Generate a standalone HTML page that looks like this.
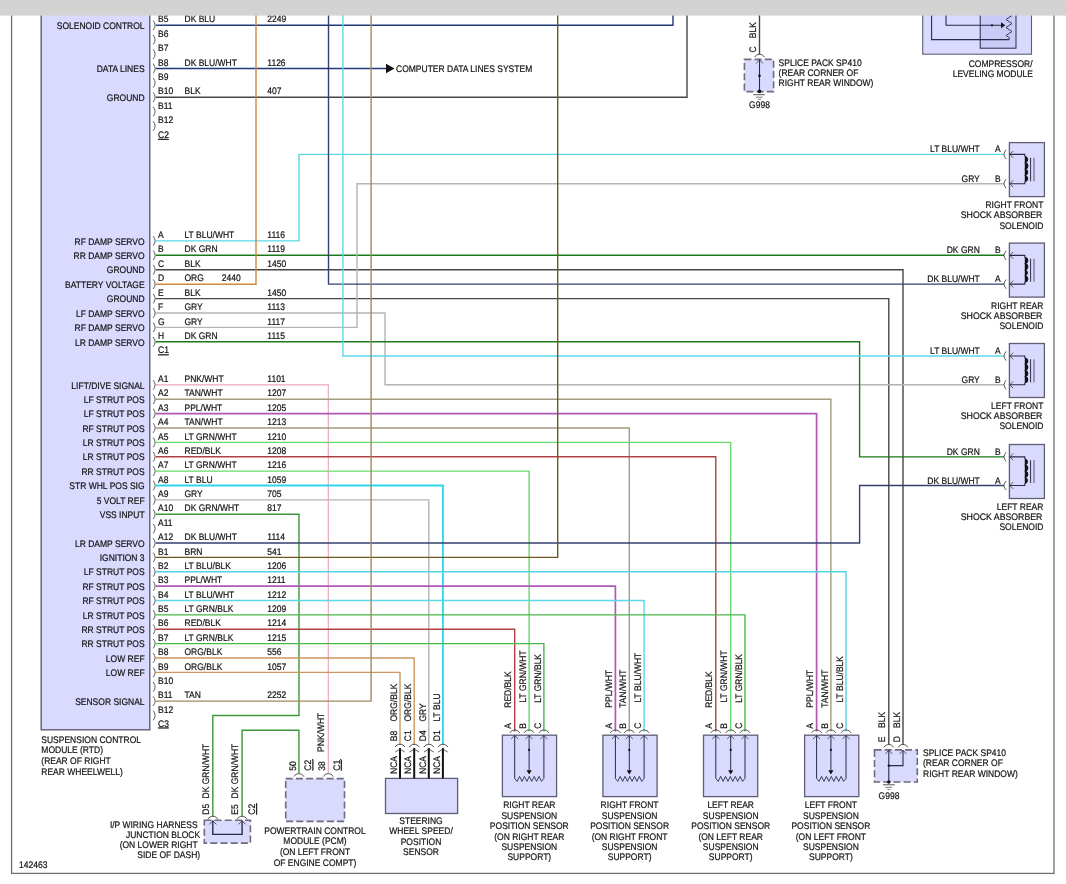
<!DOCTYPE html><html><head><meta charset="utf-8"><style>html,body{margin:0;padding:0;background:#fff;}svg{display:block;font-family:"Liberation Sans",sans-serif;text-rendering:geometricPrecision;will-change:transform;}</style></head><body>
<svg width="1066" height="884" viewBox="0 0 1066 884">
<rect x="0" y="0" width="1066" height="884" fill="#ffffff"/>
<rect x="11.6" y="0" width="1042.4" height="873.4" fill="none" stroke="#707070" stroke-width="1.3"/>
<rect x="41.2" y="0" width="108.6" height="729.8" fill="#dadaff" stroke="#5e5e76" stroke-width="1.4"/>
<polyline points="155.8,25.3 673.0,25.3 673.0,0.0" fill="none" stroke="#1f3a7c" stroke-width="1.4" stroke-linejoin="miter" stroke-linecap="butt"/>
<polyline points="155.8,68.5 387.0,68.5" fill="none" stroke="#1f3a7c" stroke-width="1.4" stroke-linejoin="miter" stroke-linecap="butt"/>
<polyline points="155.8,97.2 687.0,97.2 687.0,0.0" fill="none" stroke="#464646" stroke-width="1.4" stroke-linejoin="miter" stroke-linecap="butt"/>
<polyline points="155.8,240.9 299.0,240.9 299.0,154.4 1004.0,154.4" fill="none" stroke="#5ad8e6" stroke-width="1.4" stroke-linejoin="miter" stroke-linecap="butt"/>
<polyline points="155.8,255.3 1004.0,255.3" fill="none" stroke="#1b7a1b" stroke-width="1.4" stroke-linejoin="miter" stroke-linecap="butt"/>
<polyline points="155.8,269.7 903.0,269.7 903.0,744.5" fill="none" stroke="#464646" stroke-width="1.4" stroke-linejoin="miter" stroke-linecap="butt"/>
<polyline points="155.8,284.2 256.0,284.2 256.0,0.0" fill="none" stroke="#cc8a3c" stroke-width="1.4" stroke-linejoin="miter" stroke-linecap="butt"/>
<polyline points="155.8,298.6 888.8,298.6 888.8,744.5" fill="none" stroke="#464646" stroke-width="1.4" stroke-linejoin="miter" stroke-linecap="butt"/>
<polyline points="155.8,313.0 385.0,313.0 385.0,384.8 1004.0,384.8" fill="none" stroke="#b4b4b4" stroke-width="1.4" stroke-linejoin="miter" stroke-linecap="butt"/>
<polyline points="155.8,327.4 357.0,327.4 357.0,183.7 1004.0,183.7" fill="none" stroke="#b4b4b4" stroke-width="1.4" stroke-linejoin="miter" stroke-linecap="butt"/>
<polyline points="155.8,341.8 859.6,341.8 859.6,456.9 1004.0,456.9" fill="none" stroke="#1b7a1b" stroke-width="1.4" stroke-linejoin="miter" stroke-linecap="butt"/>
<polyline points="328.5,0.0 328.5,284.1 1004.0,284.1" fill="none" stroke="#34406e" stroke-width="1.4" stroke-linejoin="miter" stroke-linecap="butt"/>
<polyline points="342.9,0.0 342.9,356.0 1004.0,356.0" fill="none" stroke="#5ad8e6" stroke-width="1.4" stroke-linejoin="miter" stroke-linecap="butt"/>
<polyline points="155.8,384.9 328.3,384.9 328.3,773.0" fill="none" stroke="#eca8bc" stroke-width="1.2" stroke-linejoin="miter" stroke-linecap="butt"/>
<polyline points="155.8,399.3 830.9,399.3 830.9,731.5" fill="none" stroke="#a49c80" stroke-width="1.4" stroke-linejoin="miter" stroke-linecap="butt"/>
<polyline points="155.8,413.6 816.6,413.6 816.6,731.5" fill="none" stroke="#b058b8" stroke-width="1.7" stroke-linejoin="miter" stroke-linecap="butt"/>
<polyline points="155.8,428.0 629.3,428.0 629.3,731.5" fill="none" stroke="#a49c80" stroke-width="1.4" stroke-linejoin="miter" stroke-linecap="butt"/>
<polyline points="155.8,442.4 730.7,442.4 730.7,731.5" fill="none" stroke="#6cd86c" stroke-width="1.4" stroke-linejoin="miter" stroke-linecap="butt"/>
<polyline points="155.8,456.8 715.8,456.8 715.8,731.5" fill="none" stroke="#b04040" stroke-width="1.4" stroke-linejoin="miter" stroke-linecap="butt"/>
<polyline points="155.8,471.1 529.1,471.1 529.1,731.5" fill="none" stroke="#6cd86c" stroke-width="1.4" stroke-linejoin="miter" stroke-linecap="butt"/>
<polyline points="155.8,485.5 442.9,485.5 442.9,745.0" fill="none" stroke="#2ed6ea" stroke-width="1.8" stroke-linejoin="miter" stroke-linecap="butt"/>
<polyline points="155.8,499.9 428.8,499.9 428.8,745.0" fill="none" stroke="#b4b4b4" stroke-width="1.4" stroke-linejoin="miter" stroke-linecap="butt"/>
<polyline points="155.8,514.3 299.0,514.3 299.0,715.5 212.8,715.5 212.8,816.5" fill="none" stroke="#3c963c" stroke-width="1.4" stroke-linejoin="miter" stroke-linecap="butt"/>
<polyline points="155.8,543.0 859.6,543.0 859.6,485.5 1004.0,485.5" fill="none" stroke="#34406e" stroke-width="1.4" stroke-linejoin="miter" stroke-linecap="butt"/>
<polyline points="155.8,557.4 557.7,557.4 557.7,0.0" fill="none" stroke="#6a5a22" stroke-width="1.4" stroke-linejoin="miter" stroke-linecap="butt"/>
<polyline points="155.8,571.8 846.0,571.8 846.0,731.5" fill="none" stroke="#4fd4e2" stroke-width="1.4" stroke-linejoin="miter" stroke-linecap="butt"/>
<polyline points="155.8,586.1 615.4,586.1 615.4,731.5" fill="none" stroke="#b058b8" stroke-width="1.7" stroke-linejoin="miter" stroke-linecap="butt"/>
<polyline points="155.8,600.5 644.1,600.5 644.1,731.5" fill="none" stroke="#5ad8e6" stroke-width="1.4" stroke-linejoin="miter" stroke-linecap="butt"/>
<polyline points="155.8,614.9 745.0,614.9 745.0,731.5" fill="none" stroke="#4ab84a" stroke-width="1.4" stroke-linejoin="miter" stroke-linecap="butt"/>
<polyline points="155.8,629.3 514.7,629.3 514.7,731.5" fill="none" stroke="#b04040" stroke-width="1.4" stroke-linejoin="miter" stroke-linecap="butt"/>
<polyline points="155.8,643.6 543.9,643.6 543.9,731.5" fill="none" stroke="#4ab84a" stroke-width="1.4" stroke-linejoin="miter" stroke-linecap="butt"/>
<polyline points="155.8,658.0 414.2,658.0 414.2,745.0" fill="none" stroke="#cc9660" stroke-width="1.4" stroke-linejoin="miter" stroke-linecap="butt"/>
<polyline points="155.8,672.4 400.0,672.4 400.0,745.0" fill="none" stroke="#cc9660" stroke-width="1.4" stroke-linejoin="miter" stroke-linecap="butt"/>
<polyline points="155.8,701.1 371.1,701.1 371.1,0.0" fill="none" stroke="#a08c5c" stroke-width="1.4" stroke-linejoin="miter" stroke-linecap="butt"/>
<polyline points="298.9,773.0 298.9,730.2 242.1,730.2 242.1,816.5" fill="none" stroke="#3c963c" stroke-width="1.4" stroke-linejoin="miter" stroke-linecap="butt"/>
<polyline points="759.5,0.0 759.5,54.5" fill="none" stroke="#464646" stroke-width="1.4" stroke-linejoin="miter" stroke-linecap="butt"/>
<path d="M386,63.8 L394.5,68.5 L386,73.2 Z" fill="#111"/>
<text transform="translate(396.00,71.80) scale(0.895,1)" font-size="9.5" text-anchor="start" fill="#111111" stroke="#111111" stroke-width="0.2">COMPUTER DATA LINES SYSTEM</text>
<path d="M153.2,20.5 Q157.0,25.3 153.2,30.1" fill="none" stroke="#333" stroke-width="0.8"/>
<text transform="translate(158.00,22.40) scale(0.895,1)" font-size="9.5" text-anchor="start" fill="#111111" stroke="#111111" stroke-width="0.2">B5</text>
<text transform="translate(144.60,29.00) scale(0.895,1)" font-size="9.5" text-anchor="end" fill="#111111" stroke="#111111" stroke-width="0.2">SOLENOID CONTROL</text>
<text transform="translate(184.50,22.40) scale(0.895,1)" font-size="9.5" text-anchor="start" fill="#111111" stroke="#111111" stroke-width="0.2">DK BLU</text>
<text transform="translate(267.30,22.40) scale(0.895,1)" font-size="9.5" text-anchor="start" fill="#111111" stroke="#111111" stroke-width="0.2">2249</text>
<path d="M153.2,34.9 Q157.0,39.7 153.2,44.5" fill="none" stroke="#333" stroke-width="0.8"/>
<text transform="translate(158.00,36.79) scale(0.895,1)" font-size="9.5" text-anchor="start" fill="#111111" stroke="#111111" stroke-width="0.2">B6</text>
<path d="M153.2,49.3 Q157.0,54.1 153.2,58.9" fill="none" stroke="#333" stroke-width="0.8"/>
<text transform="translate(158.00,51.17) scale(0.895,1)" font-size="9.5" text-anchor="start" fill="#111111" stroke="#111111" stroke-width="0.2">B7</text>
<path d="M153.2,63.7 Q157.0,68.5 153.2,73.3" fill="none" stroke="#333" stroke-width="0.8"/>
<text transform="translate(158.00,65.55) scale(0.895,1)" font-size="9.5" text-anchor="start" fill="#111111" stroke="#111111" stroke-width="0.2">B8</text>
<text transform="translate(144.60,72.16) scale(0.895,1)" font-size="9.5" text-anchor="end" fill="#111111" stroke="#111111" stroke-width="0.2">DATA LINES</text>
<text transform="translate(184.50,65.55) scale(0.895,1)" font-size="9.5" text-anchor="start" fill="#111111" stroke="#111111" stroke-width="0.2">DK BLU/WHT</text>
<text transform="translate(267.30,65.55) scale(0.895,1)" font-size="9.5" text-anchor="start" fill="#111111" stroke="#111111" stroke-width="0.2">1126</text>
<path d="M153.2,78.0 Q157.0,82.8 153.2,87.6" fill="none" stroke="#333" stroke-width="0.8"/>
<text transform="translate(158.00,79.94) scale(0.895,1)" font-size="9.5" text-anchor="start" fill="#111111" stroke="#111111" stroke-width="0.2">B9</text>
<path d="M153.2,92.4 Q157.0,97.2 153.2,102.0" fill="none" stroke="#333" stroke-width="0.8"/>
<text transform="translate(158.00,94.32) scale(0.895,1)" font-size="9.5" text-anchor="start" fill="#111111" stroke="#111111" stroke-width="0.2">B10</text>
<text transform="translate(144.60,100.92) scale(0.895,1)" font-size="9.5" text-anchor="end" fill="#111111" stroke="#111111" stroke-width="0.2">GROUND</text>
<text transform="translate(184.50,94.32) scale(0.895,1)" font-size="9.5" text-anchor="start" fill="#111111" stroke="#111111" stroke-width="0.2">BLK</text>
<text transform="translate(267.30,94.32) scale(0.895,1)" font-size="9.5" text-anchor="start" fill="#111111" stroke="#111111" stroke-width="0.2">407</text>
<path d="M153.2,106.8 Q157.0,111.6 153.2,116.4" fill="none" stroke="#333" stroke-width="0.8"/>
<text transform="translate(158.00,108.71) scale(0.895,1)" font-size="9.5" text-anchor="start" fill="#111111" stroke="#111111" stroke-width="0.2">B11</text>
<path d="M153.2,121.2 Q157.0,126.0 153.2,130.8" fill="none" stroke="#333" stroke-width="0.8"/>
<text transform="translate(158.00,123.09) scale(0.895,1)" font-size="9.5" text-anchor="start" fill="#111111" stroke="#111111" stroke-width="0.2">B12</text>
<text transform="translate(158.00,137.90) scale(0.895,1)" font-size="9.5" text-anchor="start" fill="#111111" stroke="#111111" stroke-width="0.2" text-decoration="underline">C2</text>
<path d="M153.2,236.1 Q157.0,240.9 153.2,245.7" fill="none" stroke="#333" stroke-width="0.8"/>
<text transform="translate(158.00,238.00) scale(0.895,1)" font-size="9.5" text-anchor="start" fill="#111111" stroke="#111111" stroke-width="0.2">A</text>
<text transform="translate(144.60,244.60) scale(0.895,1)" font-size="9.5" text-anchor="end" fill="#111111" stroke="#111111" stroke-width="0.2">RF DAMP SERVO</text>
<text transform="translate(184.50,238.00) scale(0.895,1)" font-size="9.5" text-anchor="start" fill="#111111" stroke="#111111" stroke-width="0.2">LT BLU/WHT</text>
<text transform="translate(267.30,238.00) scale(0.895,1)" font-size="9.5" text-anchor="start" fill="#111111" stroke="#111111" stroke-width="0.2">1116</text>
<path d="M153.2,250.5 Q157.0,255.3 153.2,260.1" fill="none" stroke="#333" stroke-width="0.8"/>
<text transform="translate(158.00,252.42) scale(0.895,1)" font-size="9.5" text-anchor="start" fill="#111111" stroke="#111111" stroke-width="0.2">B</text>
<text transform="translate(144.60,259.02) scale(0.895,1)" font-size="9.5" text-anchor="end" fill="#111111" stroke="#111111" stroke-width="0.2">RR DAMP SERVO</text>
<text transform="translate(184.50,252.42) scale(0.895,1)" font-size="9.5" text-anchor="start" fill="#111111" stroke="#111111" stroke-width="0.2">DK GRN</text>
<text transform="translate(267.30,252.42) scale(0.895,1)" font-size="9.5" text-anchor="start" fill="#111111" stroke="#111111" stroke-width="0.2">1119</text>
<path d="M153.2,264.9 Q157.0,269.7 153.2,274.5" fill="none" stroke="#333" stroke-width="0.8"/>
<text transform="translate(158.00,266.84) scale(0.895,1)" font-size="9.5" text-anchor="start" fill="#111111" stroke="#111111" stroke-width="0.2">C</text>
<text transform="translate(144.60,273.44) scale(0.895,1)" font-size="9.5" text-anchor="end" fill="#111111" stroke="#111111" stroke-width="0.2">GROUND</text>
<text transform="translate(184.50,266.84) scale(0.895,1)" font-size="9.5" text-anchor="start" fill="#111111" stroke="#111111" stroke-width="0.2">BLK</text>
<text transform="translate(267.30,266.84) scale(0.895,1)" font-size="9.5" text-anchor="start" fill="#111111" stroke="#111111" stroke-width="0.2">1450</text>
<path d="M153.2,279.4 Q157.0,284.2 153.2,289.0" fill="none" stroke="#333" stroke-width="0.8"/>
<text transform="translate(158.00,281.26) scale(0.895,1)" font-size="9.5" text-anchor="start" fill="#111111" stroke="#111111" stroke-width="0.2">D</text>
<text transform="translate(144.60,287.86) scale(0.895,1)" font-size="9.5" text-anchor="end" fill="#111111" stroke="#111111" stroke-width="0.2">BATTERY VOLTAGE</text>
<text transform="translate(184.50,281.26) scale(0.895,1)" font-size="9.5" text-anchor="start" fill="#111111" stroke="#111111" stroke-width="0.2">ORG</text>
<path d="M153.2,293.8 Q157.0,298.6 153.2,303.4" fill="none" stroke="#333" stroke-width="0.8"/>
<text transform="translate(158.00,295.68) scale(0.895,1)" font-size="9.5" text-anchor="start" fill="#111111" stroke="#111111" stroke-width="0.2">E</text>
<text transform="translate(144.60,302.28) scale(0.895,1)" font-size="9.5" text-anchor="end" fill="#111111" stroke="#111111" stroke-width="0.2">GROUND</text>
<text transform="translate(184.50,295.68) scale(0.895,1)" font-size="9.5" text-anchor="start" fill="#111111" stroke="#111111" stroke-width="0.2">BLK</text>
<text transform="translate(267.30,295.68) scale(0.895,1)" font-size="9.5" text-anchor="start" fill="#111111" stroke="#111111" stroke-width="0.2">1450</text>
<path d="M153.2,308.2 Q157.0,313.0 153.2,317.8" fill="none" stroke="#333" stroke-width="0.8"/>
<text transform="translate(158.00,310.10) scale(0.895,1)" font-size="9.5" text-anchor="start" fill="#111111" stroke="#111111" stroke-width="0.2">F</text>
<text transform="translate(144.60,316.70) scale(0.895,1)" font-size="9.5" text-anchor="end" fill="#111111" stroke="#111111" stroke-width="0.2">LF DAMP SERVO</text>
<text transform="translate(184.50,310.10) scale(0.895,1)" font-size="9.5" text-anchor="start" fill="#111111" stroke="#111111" stroke-width="0.2">GRY</text>
<text transform="translate(267.30,310.10) scale(0.895,1)" font-size="9.5" text-anchor="start" fill="#111111" stroke="#111111" stroke-width="0.2">1113</text>
<path d="M153.2,322.6 Q157.0,327.4 153.2,332.2" fill="none" stroke="#333" stroke-width="0.8"/>
<text transform="translate(158.00,324.52) scale(0.895,1)" font-size="9.5" text-anchor="start" fill="#111111" stroke="#111111" stroke-width="0.2">G</text>
<text transform="translate(144.60,331.12) scale(0.895,1)" font-size="9.5" text-anchor="end" fill="#111111" stroke="#111111" stroke-width="0.2">RF DAMP SERVO</text>
<text transform="translate(184.50,324.52) scale(0.895,1)" font-size="9.5" text-anchor="start" fill="#111111" stroke="#111111" stroke-width="0.2">GRY</text>
<text transform="translate(267.30,324.52) scale(0.895,1)" font-size="9.5" text-anchor="start" fill="#111111" stroke="#111111" stroke-width="0.2">1117</text>
<path d="M153.2,337.0 Q157.0,341.8 153.2,346.6" fill="none" stroke="#333" stroke-width="0.8"/>
<text transform="translate(158.00,338.94) scale(0.895,1)" font-size="9.5" text-anchor="start" fill="#111111" stroke="#111111" stroke-width="0.2">H</text>
<text transform="translate(144.60,345.54) scale(0.895,1)" font-size="9.5" text-anchor="end" fill="#111111" stroke="#111111" stroke-width="0.2">LR DAMP SERVO</text>
<text transform="translate(184.50,338.94) scale(0.895,1)" font-size="9.5" text-anchor="start" fill="#111111" stroke="#111111" stroke-width="0.2">DK GRN</text>
<text transform="translate(267.30,338.94) scale(0.895,1)" font-size="9.5" text-anchor="start" fill="#111111" stroke="#111111" stroke-width="0.2">1115</text>
<text transform="translate(158.00,353.30) scale(0.895,1)" font-size="9.5" text-anchor="start" fill="#111111" stroke="#111111" stroke-width="0.2" text-decoration="underline">C1</text>
<text transform="translate(221.80,281.26) scale(0.895,1)" font-size="9.5" text-anchor="start" fill="#111111" stroke="#111111" stroke-width="0.2">2440</text>
<path d="M153.2,380.1 Q157.0,384.9 153.2,389.7" fill="none" stroke="#333" stroke-width="0.8"/>
<text transform="translate(158.00,382.00) scale(0.895,1)" font-size="9.5" text-anchor="start" fill="#111111" stroke="#111111" stroke-width="0.2">A1</text>
<text transform="translate(144.60,388.60) scale(0.895,1)" font-size="9.5" text-anchor="end" fill="#111111" stroke="#111111" stroke-width="0.2">LIFT/DIVE SIGNAL</text>
<text transform="translate(184.50,382.00) scale(0.895,1)" font-size="9.5" text-anchor="start" fill="#111111" stroke="#111111" stroke-width="0.2">PNK/WHT</text>
<text transform="translate(267.30,382.00) scale(0.895,1)" font-size="9.5" text-anchor="start" fill="#111111" stroke="#111111" stroke-width="0.2">1101</text>
<path d="M153.2,394.5 Q157.0,399.3 153.2,404.1" fill="none" stroke="#333" stroke-width="0.8"/>
<text transform="translate(158.00,396.38) scale(0.895,1)" font-size="9.5" text-anchor="start" fill="#111111" stroke="#111111" stroke-width="0.2">A2</text>
<text transform="translate(144.60,402.97) scale(0.895,1)" font-size="9.5" text-anchor="end" fill="#111111" stroke="#111111" stroke-width="0.2">LF STRUT POS</text>
<text transform="translate(184.50,396.38) scale(0.895,1)" font-size="9.5" text-anchor="start" fill="#111111" stroke="#111111" stroke-width="0.2">TAN/WHT</text>
<text transform="translate(267.30,396.38) scale(0.895,1)" font-size="9.5" text-anchor="start" fill="#111111" stroke="#111111" stroke-width="0.2">1207</text>
<path d="M153.2,408.8 Q157.0,413.6 153.2,418.4" fill="none" stroke="#333" stroke-width="0.8"/>
<text transform="translate(158.00,410.75) scale(0.895,1)" font-size="9.5" text-anchor="start" fill="#111111" stroke="#111111" stroke-width="0.2">A3</text>
<text transform="translate(144.60,417.35) scale(0.895,1)" font-size="9.5" text-anchor="end" fill="#111111" stroke="#111111" stroke-width="0.2">LF STRUT POS</text>
<text transform="translate(184.50,410.75) scale(0.895,1)" font-size="9.5" text-anchor="start" fill="#111111" stroke="#111111" stroke-width="0.2">PPL/WHT</text>
<text transform="translate(267.30,410.75) scale(0.895,1)" font-size="9.5" text-anchor="start" fill="#111111" stroke="#111111" stroke-width="0.2">1205</text>
<path d="M153.2,423.2 Q157.0,428.0 153.2,432.8" fill="none" stroke="#333" stroke-width="0.8"/>
<text transform="translate(158.00,425.12) scale(0.895,1)" font-size="9.5" text-anchor="start" fill="#111111" stroke="#111111" stroke-width="0.2">A4</text>
<text transform="translate(144.60,431.72) scale(0.895,1)" font-size="9.5" text-anchor="end" fill="#111111" stroke="#111111" stroke-width="0.2">RF STRUT POS</text>
<text transform="translate(184.50,425.12) scale(0.895,1)" font-size="9.5" text-anchor="start" fill="#111111" stroke="#111111" stroke-width="0.2">TAN/WHT</text>
<text transform="translate(267.30,425.12) scale(0.895,1)" font-size="9.5" text-anchor="start" fill="#111111" stroke="#111111" stroke-width="0.2">1213</text>
<path d="M153.2,437.6 Q157.0,442.4 153.2,447.2" fill="none" stroke="#333" stroke-width="0.8"/>
<text transform="translate(158.00,439.50) scale(0.895,1)" font-size="9.5" text-anchor="start" fill="#111111" stroke="#111111" stroke-width="0.2">A5</text>
<text transform="translate(144.60,446.10) scale(0.895,1)" font-size="9.5" text-anchor="end" fill="#111111" stroke="#111111" stroke-width="0.2">LR STRUT POS</text>
<text transform="translate(184.50,439.50) scale(0.895,1)" font-size="9.5" text-anchor="start" fill="#111111" stroke="#111111" stroke-width="0.2">LT GRN/WHT</text>
<text transform="translate(267.30,439.50) scale(0.895,1)" font-size="9.5" text-anchor="start" fill="#111111" stroke="#111111" stroke-width="0.2">1210</text>
<path d="M153.2,452.0 Q157.0,456.8 153.2,461.6" fill="none" stroke="#333" stroke-width="0.8"/>
<text transform="translate(158.00,453.88) scale(0.895,1)" font-size="9.5" text-anchor="start" fill="#111111" stroke="#111111" stroke-width="0.2">A6</text>
<text transform="translate(144.60,460.47) scale(0.895,1)" font-size="9.5" text-anchor="end" fill="#111111" stroke="#111111" stroke-width="0.2">LR STRUT POS</text>
<text transform="translate(184.50,453.88) scale(0.895,1)" font-size="9.5" text-anchor="start" fill="#111111" stroke="#111111" stroke-width="0.2">RED/BLK</text>
<text transform="translate(267.30,453.88) scale(0.895,1)" font-size="9.5" text-anchor="start" fill="#111111" stroke="#111111" stroke-width="0.2">1208</text>
<path d="M153.2,466.3 Q157.0,471.1 153.2,475.9" fill="none" stroke="#333" stroke-width="0.8"/>
<text transform="translate(158.00,468.25) scale(0.895,1)" font-size="9.5" text-anchor="start" fill="#111111" stroke="#111111" stroke-width="0.2">A7</text>
<text transform="translate(144.60,474.85) scale(0.895,1)" font-size="9.5" text-anchor="end" fill="#111111" stroke="#111111" stroke-width="0.2">RR STRUT POS</text>
<text transform="translate(184.50,468.25) scale(0.895,1)" font-size="9.5" text-anchor="start" fill="#111111" stroke="#111111" stroke-width="0.2">LT GRN/WHT</text>
<text transform="translate(267.30,468.25) scale(0.895,1)" font-size="9.5" text-anchor="start" fill="#111111" stroke="#111111" stroke-width="0.2">1216</text>
<path d="M153.2,480.7 Q157.0,485.5 153.2,490.3" fill="none" stroke="#333" stroke-width="0.8"/>
<text transform="translate(158.00,482.62) scale(0.895,1)" font-size="9.5" text-anchor="start" fill="#111111" stroke="#111111" stroke-width="0.2">A8</text>
<text transform="translate(144.60,489.22) scale(0.895,1)" font-size="9.5" text-anchor="end" fill="#111111" stroke="#111111" stroke-width="0.2">STR WHL POS SIG</text>
<text transform="translate(184.50,482.62) scale(0.895,1)" font-size="9.5" text-anchor="start" fill="#111111" stroke="#111111" stroke-width="0.2">LT BLU</text>
<text transform="translate(267.30,482.62) scale(0.895,1)" font-size="9.5" text-anchor="start" fill="#111111" stroke="#111111" stroke-width="0.2">1059</text>
<path d="M153.2,495.1 Q157.0,499.9 153.2,504.7" fill="none" stroke="#333" stroke-width="0.8"/>
<text transform="translate(158.00,497.00) scale(0.895,1)" font-size="9.5" text-anchor="start" fill="#111111" stroke="#111111" stroke-width="0.2">A9</text>
<text transform="translate(144.60,503.60) scale(0.895,1)" font-size="9.5" text-anchor="end" fill="#111111" stroke="#111111" stroke-width="0.2">5 VOLT REF</text>
<text transform="translate(184.50,497.00) scale(0.895,1)" font-size="9.5" text-anchor="start" fill="#111111" stroke="#111111" stroke-width="0.2">GRY</text>
<text transform="translate(267.30,497.00) scale(0.895,1)" font-size="9.5" text-anchor="start" fill="#111111" stroke="#111111" stroke-width="0.2">705</text>
<path d="M153.2,509.5 Q157.0,514.3 153.2,519.1" fill="none" stroke="#333" stroke-width="0.8"/>
<text transform="translate(158.00,511.38) scale(0.895,1)" font-size="9.5" text-anchor="start" fill="#111111" stroke="#111111" stroke-width="0.2">A10</text>
<text transform="translate(144.60,517.98) scale(0.895,1)" font-size="9.5" text-anchor="end" fill="#111111" stroke="#111111" stroke-width="0.2">VSS INPUT</text>
<text transform="translate(184.50,511.38) scale(0.895,1)" font-size="9.5" text-anchor="start" fill="#111111" stroke="#111111" stroke-width="0.2">DK GRN/WHT</text>
<text transform="translate(267.30,511.38) scale(0.895,1)" font-size="9.5" text-anchor="start" fill="#111111" stroke="#111111" stroke-width="0.2">817</text>
<path d="M153.2,523.9 Q157.0,528.6 153.2,533.4" fill="none" stroke="#333" stroke-width="0.8"/>
<text transform="translate(158.00,525.75) scale(0.895,1)" font-size="9.5" text-anchor="start" fill="#111111" stroke="#111111" stroke-width="0.2">A11</text>
<path d="M153.2,538.2 Q157.0,543.0 153.2,547.8" fill="none" stroke="#333" stroke-width="0.8"/>
<text transform="translate(158.00,540.12) scale(0.895,1)" font-size="9.5" text-anchor="start" fill="#111111" stroke="#111111" stroke-width="0.2">A12</text>
<text transform="translate(144.60,546.73) scale(0.895,1)" font-size="9.5" text-anchor="end" fill="#111111" stroke="#111111" stroke-width="0.2">LR DAMP SERVO</text>
<text transform="translate(184.50,540.12) scale(0.895,1)" font-size="9.5" text-anchor="start" fill="#111111" stroke="#111111" stroke-width="0.2">DK BLU/WHT</text>
<text transform="translate(267.30,540.12) scale(0.895,1)" font-size="9.5" text-anchor="start" fill="#111111" stroke="#111111" stroke-width="0.2">1114</text>
<path d="M153.2,552.6 Q157.0,557.4 153.2,562.2" fill="none" stroke="#333" stroke-width="0.8"/>
<text transform="translate(158.00,554.50) scale(0.895,1)" font-size="9.5" text-anchor="start" fill="#111111" stroke="#111111" stroke-width="0.2">B1</text>
<text transform="translate(144.60,561.10) scale(0.895,1)" font-size="9.5" text-anchor="end" fill="#111111" stroke="#111111" stroke-width="0.2">IGNITION 3</text>
<text transform="translate(184.50,554.50) scale(0.895,1)" font-size="9.5" text-anchor="start" fill="#111111" stroke="#111111" stroke-width="0.2">BRN</text>
<text transform="translate(267.30,554.50) scale(0.895,1)" font-size="9.5" text-anchor="start" fill="#111111" stroke="#111111" stroke-width="0.2">541</text>
<path d="M153.2,567.0 Q157.0,571.8 153.2,576.6" fill="none" stroke="#333" stroke-width="0.8"/>
<text transform="translate(158.00,568.88) scale(0.895,1)" font-size="9.5" text-anchor="start" fill="#111111" stroke="#111111" stroke-width="0.2">B2</text>
<text transform="translate(144.60,575.48) scale(0.895,1)" font-size="9.5" text-anchor="end" fill="#111111" stroke="#111111" stroke-width="0.2">LF STRUT POS</text>
<text transform="translate(184.50,568.88) scale(0.895,1)" font-size="9.5" text-anchor="start" fill="#111111" stroke="#111111" stroke-width="0.2">LT BLU/BLK</text>
<text transform="translate(267.30,568.88) scale(0.895,1)" font-size="9.5" text-anchor="start" fill="#111111" stroke="#111111" stroke-width="0.2">1206</text>
<path d="M153.2,581.4 Q157.0,586.1 153.2,590.9" fill="none" stroke="#333" stroke-width="0.8"/>
<text transform="translate(158.00,583.25) scale(0.895,1)" font-size="9.5" text-anchor="start" fill="#111111" stroke="#111111" stroke-width="0.2">B3</text>
<text transform="translate(144.60,589.85) scale(0.895,1)" font-size="9.5" text-anchor="end" fill="#111111" stroke="#111111" stroke-width="0.2">RF STRUT POS</text>
<text transform="translate(184.50,583.25) scale(0.895,1)" font-size="9.5" text-anchor="start" fill="#111111" stroke="#111111" stroke-width="0.2">PPL/WHT</text>
<text transform="translate(267.30,583.25) scale(0.895,1)" font-size="9.5" text-anchor="start" fill="#111111" stroke="#111111" stroke-width="0.2">1211</text>
<path d="M153.2,595.7 Q157.0,600.5 153.2,605.3" fill="none" stroke="#333" stroke-width="0.8"/>
<text transform="translate(158.00,597.62) scale(0.895,1)" font-size="9.5" text-anchor="start" fill="#111111" stroke="#111111" stroke-width="0.2">B4</text>
<text transform="translate(144.60,604.23) scale(0.895,1)" font-size="9.5" text-anchor="end" fill="#111111" stroke="#111111" stroke-width="0.2">RF STRUT POS</text>
<text transform="translate(184.50,597.62) scale(0.895,1)" font-size="9.5" text-anchor="start" fill="#111111" stroke="#111111" stroke-width="0.2">LT BLU/WHT</text>
<text transform="translate(267.30,597.62) scale(0.895,1)" font-size="9.5" text-anchor="start" fill="#111111" stroke="#111111" stroke-width="0.2">1212</text>
<path d="M153.2,610.1 Q157.0,614.9 153.2,619.7" fill="none" stroke="#333" stroke-width="0.8"/>
<text transform="translate(158.00,612.00) scale(0.895,1)" font-size="9.5" text-anchor="start" fill="#111111" stroke="#111111" stroke-width="0.2">B5</text>
<text transform="translate(144.60,618.60) scale(0.895,1)" font-size="9.5" text-anchor="end" fill="#111111" stroke="#111111" stroke-width="0.2">LR STRUT POS</text>
<text transform="translate(184.50,612.00) scale(0.895,1)" font-size="9.5" text-anchor="start" fill="#111111" stroke="#111111" stroke-width="0.2">LT GRN/BLK</text>
<text transform="translate(267.30,612.00) scale(0.895,1)" font-size="9.5" text-anchor="start" fill="#111111" stroke="#111111" stroke-width="0.2">1209</text>
<path d="M153.2,624.5 Q157.0,629.3 153.2,634.1" fill="none" stroke="#333" stroke-width="0.8"/>
<text transform="translate(158.00,626.38) scale(0.895,1)" font-size="9.5" text-anchor="start" fill="#111111" stroke="#111111" stroke-width="0.2">B6</text>
<text transform="translate(144.60,632.98) scale(0.895,1)" font-size="9.5" text-anchor="end" fill="#111111" stroke="#111111" stroke-width="0.2">RR STRUT POS</text>
<text transform="translate(184.50,626.38) scale(0.895,1)" font-size="9.5" text-anchor="start" fill="#111111" stroke="#111111" stroke-width="0.2">RED/BLK</text>
<text transform="translate(267.30,626.38) scale(0.895,1)" font-size="9.5" text-anchor="start" fill="#111111" stroke="#111111" stroke-width="0.2">1214</text>
<path d="M153.2,638.9 Q157.0,643.6 153.2,648.4" fill="none" stroke="#333" stroke-width="0.8"/>
<text transform="translate(158.00,640.75) scale(0.895,1)" font-size="9.5" text-anchor="start" fill="#111111" stroke="#111111" stroke-width="0.2">B7</text>
<text transform="translate(144.60,647.35) scale(0.895,1)" font-size="9.5" text-anchor="end" fill="#111111" stroke="#111111" stroke-width="0.2">RR STRUT POS</text>
<text transform="translate(184.50,640.75) scale(0.895,1)" font-size="9.5" text-anchor="start" fill="#111111" stroke="#111111" stroke-width="0.2">LT GRN/BLK</text>
<text transform="translate(267.30,640.75) scale(0.895,1)" font-size="9.5" text-anchor="start" fill="#111111" stroke="#111111" stroke-width="0.2">1215</text>
<path d="M153.2,653.2 Q157.0,658.0 153.2,662.8" fill="none" stroke="#333" stroke-width="0.8"/>
<text transform="translate(158.00,655.12) scale(0.895,1)" font-size="9.5" text-anchor="start" fill="#111111" stroke="#111111" stroke-width="0.2">B8</text>
<text transform="translate(144.60,661.73) scale(0.895,1)" font-size="9.5" text-anchor="end" fill="#111111" stroke="#111111" stroke-width="0.2">LOW REF</text>
<text transform="translate(184.50,655.12) scale(0.895,1)" font-size="9.5" text-anchor="start" fill="#111111" stroke="#111111" stroke-width="0.2">ORG/BLK</text>
<text transform="translate(267.30,655.12) scale(0.895,1)" font-size="9.5" text-anchor="start" fill="#111111" stroke="#111111" stroke-width="0.2">556</text>
<path d="M153.2,667.6 Q157.0,672.4 153.2,677.2" fill="none" stroke="#333" stroke-width="0.8"/>
<text transform="translate(158.00,669.50) scale(0.895,1)" font-size="9.5" text-anchor="start" fill="#111111" stroke="#111111" stroke-width="0.2">B9</text>
<text transform="translate(144.60,676.10) scale(0.895,1)" font-size="9.5" text-anchor="end" fill="#111111" stroke="#111111" stroke-width="0.2">LOW REF</text>
<text transform="translate(184.50,669.50) scale(0.895,1)" font-size="9.5" text-anchor="start" fill="#111111" stroke="#111111" stroke-width="0.2">ORG/BLK</text>
<text transform="translate(267.30,669.50) scale(0.895,1)" font-size="9.5" text-anchor="start" fill="#111111" stroke="#111111" stroke-width="0.2">1057</text>
<path d="M153.2,682.0 Q157.0,686.8 153.2,691.6" fill="none" stroke="#333" stroke-width="0.8"/>
<text transform="translate(158.00,683.88) scale(0.895,1)" font-size="9.5" text-anchor="start" fill="#111111" stroke="#111111" stroke-width="0.2">B10</text>
<path d="M153.2,696.4 Q157.0,701.1 153.2,705.9" fill="none" stroke="#333" stroke-width="0.8"/>
<text transform="translate(158.00,698.25) scale(0.895,1)" font-size="9.5" text-anchor="start" fill="#111111" stroke="#111111" stroke-width="0.2">B11</text>
<text transform="translate(144.60,704.85) scale(0.895,1)" font-size="9.5" text-anchor="end" fill="#111111" stroke="#111111" stroke-width="0.2">SENSOR SIGNAL</text>
<text transform="translate(184.50,698.25) scale(0.895,1)" font-size="9.5" text-anchor="start" fill="#111111" stroke="#111111" stroke-width="0.2">TAN</text>
<text transform="translate(267.30,698.25) scale(0.895,1)" font-size="9.5" text-anchor="start" fill="#111111" stroke="#111111" stroke-width="0.2">2252</text>
<path d="M153.2,710.7 Q157.0,715.5 153.2,720.3" fill="none" stroke="#333" stroke-width="0.8"/>
<text transform="translate(158.00,712.62) scale(0.895,1)" font-size="9.5" text-anchor="start" fill="#111111" stroke="#111111" stroke-width="0.2">B12</text>
<text transform="translate(158.00,726.50) scale(0.895,1)" font-size="9.5" text-anchor="start" fill="#111111" stroke="#111111" stroke-width="0.2" text-decoration="underline">C3</text>
<text transform="translate(41.30,742.50) scale(0.895,1)" font-size="9.5" text-anchor="start" fill="#111111" stroke="#111111" stroke-width="0.2">SUSPENSION CONTROL</text>
<text transform="translate(41.30,752.90) scale(0.895,1)" font-size="9.5" text-anchor="start" fill="#111111" stroke="#111111" stroke-width="0.2">MODULE (RTD)</text>
<text transform="translate(41.30,764.10) scale(0.895,1)" font-size="9.5" text-anchor="start" fill="#111111" stroke="#111111" stroke-width="0.2">(REAR OF RIGHT</text>
<text transform="translate(41.30,774.50) scale(0.895,1)" font-size="9.5" text-anchor="start" fill="#111111" stroke="#111111" stroke-width="0.2">REAR WHEELWELL)</text>
<text transform="translate(19.00,867.70) scale(0.895,1)" font-size="9.5" text-anchor="start" fill="#111111" stroke="#111111" stroke-width="0.2">142463</text>
<path d="M754.6,57.2 C756.8,53.3 762.2,53.3 764.4,57.2" fill="none" stroke="#333" stroke-width="0.85"/>
<rect x="744.4" y="59.4" width="29.2" height="32.2" fill="#dadaff" stroke="#6c6c7c" stroke-width="1.6" stroke-dasharray="7,3.2"/>
<line x1="759.5" y1="59.6" x2="759.5" y2="91.4" stroke="#2a2a4a" stroke-width="1.1"/>
<path d="M756.1,63.5 L759.5,59.9 L762.9,63.5" fill="none" stroke="#333" stroke-width="0.8"/>
<circle cx="759.5" cy="75.7" r="1.3" fill="#111"/>
<circle cx="759.5" cy="91.4" r="1.8" fill="#111"/>
<line x1="753.2" y1="94.7" x2="764.9" y2="94.7" stroke="#555" stroke-width="1.0"/>
<line x1="755.8" y1="97.2" x2="762.6" y2="97.2" stroke="#777" stroke-width="1.0"/>
<line x1="757.7" y1="99.3" x2="761.0" y2="99.3" stroke="#888" stroke-width="1.0"/>
<text transform="translate(759.50,108.30) scale(0.895,1)" font-size="9.5" text-anchor="middle" fill="#111111" stroke="#111111" stroke-width="0.2">G998</text>
<text transform="translate(755.70,52.50) rotate(-90) scale(0.895,1)" font-size="9.5" text-anchor="start" fill="#111111" stroke="#111111" stroke-width="0.2">C</text>
<text transform="translate(755.70,38.20) rotate(-90) scale(0.895,1)" font-size="9.5" text-anchor="start" fill="#111111" stroke="#111111" stroke-width="0.2">BLK</text>
<text transform="translate(778.60,65.70) scale(0.895,1)" font-size="9.5" text-anchor="start" fill="#111111" stroke="#111111" stroke-width="0.2">SPLICE PACK SP410</text>
<text transform="translate(778.60,75.85) scale(0.895,1)" font-size="9.5" text-anchor="start" fill="#111111" stroke="#111111" stroke-width="0.2">(REAR CORNER OF</text>
<text transform="translate(778.60,86.00) scale(0.895,1)" font-size="9.5" text-anchor="start" fill="#111111" stroke="#111111" stroke-width="0.2">RIGHT REAR WINDOW)</text>
<rect x="922.7" y="0" width="108.8" height="54.2" fill="#dadaff" stroke="#5e5e76" stroke-width="1.1"/>
<rect x="980.2" y="0" width="35.8" height="48.2" fill="#cacaf6" stroke="#2a2a4a" stroke-width="1.0"/>
<polyline points="931.6,0 931.6,39.6 1009.2,39.6" fill="none" stroke="#2a2a4a" stroke-width="1.1"/>
<polyline points="946,0 946,25.3 1002,25.3" fill="none" stroke="#2a2a4a" stroke-width="1.1"/>
<path d="M1001,22.3 L1005.2,25.3 L1001,28.3 Z" fill="#111"/>
<circle cx="992" cy="25.3" r="1.1" fill="#111"/>
<polyline points="1009.2,39.6 1009.2,37.5 1006,35.5 1012,31.5 1006,27.5 1012,23.5 1006,19.5 1012,15.5 1009,13" fill="none" stroke="#2a2a4a" stroke-width="0.9"/>
<text transform="translate(1032.50,66.80) scale(0.895,1)" font-size="9.5" text-anchor="end" fill="#111111" stroke="#111111" stroke-width="0.2">COMPRESSOR/</text>
<text transform="translate(1033.00,76.60) scale(0.895,1)" font-size="9.5" text-anchor="end" fill="#111111" stroke="#111111" stroke-width="0.2">LEVELING MODULE</text>
<rect x="1009.4" y="142.6" width="35.0" height="54.0" fill="#dadaff" stroke="#5e5e76" stroke-width="1.3"/>
<path d="M1006.2,149.8 Q1001.8,154.4 1006.2,159.0" fill="none" stroke="#333" stroke-width="0.8"/>
<path d="M1013.2,151.0 L1009.8,154.4 L1013.2,157.8" fill="none" stroke="#333" stroke-width="0.8"/>
<text transform="translate(979.80,152.40) scale(0.895,1)" font-size="9.5" text-anchor="end" fill="#111111" stroke="#111111" stroke-width="0.2">LT BLU/WHT</text>
<text transform="translate(995.00,152.40) scale(0.895,1)" font-size="9.5" text-anchor="start" fill="#111111" stroke="#111111" stroke-width="0.2">A</text>
<path d="M1006.2,179.1 Q1001.8,183.7 1006.2,188.3" fill="none" stroke="#333" stroke-width="0.8"/>
<path d="M1013.2,180.3 L1009.8,183.7 L1013.2,187.1" fill="none" stroke="#333" stroke-width="0.8"/>
<text transform="translate(979.80,181.70) scale(0.895,1)" font-size="9.5" text-anchor="end" fill="#111111" stroke="#111111" stroke-width="0.2">GRY</text>
<text transform="translate(995.00,181.70) scale(0.895,1)" font-size="9.5" text-anchor="start" fill="#111111" stroke="#111111" stroke-width="0.2">B</text>
<polyline points="1009.8,154.4 1024.8,154.4 1024.8,156.4" fill="none" stroke="#2a2a4a" stroke-width="1.1"/>
<polyline points="1009.8,183.7 1024.8,183.7 1024.8,181.7" fill="none" stroke="#2a2a4a" stroke-width="1.1"/>
<path d="M1024.8,156.4 A3.16,3.16 0 0 1 1024.8,162.7 A3.16,3.16 0 0 1 1024.8,169.1 A3.16,3.16 0 0 1 1024.8,175.4 A3.16,3.16 0 0 1 1024.8,181.7" fill="#111" stroke="#111" stroke-width="1.0"/>
<line x1="1030.6" y1="157.7" x2="1030.6" y2="181.3" stroke="#2a2a4a" stroke-width="1.0"/>
<line x1="1034.0" y1="157.7" x2="1034.0" y2="181.3" stroke="#555577" stroke-width="1.0"/>
<text transform="translate(1043.40,208.10) scale(0.895,1)" font-size="9.5" text-anchor="end" fill="#111111" stroke="#111111" stroke-width="0.2">RIGHT FRONT</text>
<text transform="translate(1042.40,218.30) scale(0.92,1)" font-size="9.5" text-anchor="end" fill="#111111" stroke="#111111" stroke-width="0.2">SHOCK ABSORBER</text>
<text transform="translate(1043.40,228.50) scale(0.895,1)" font-size="9.5" text-anchor="end" fill="#111111" stroke="#111111" stroke-width="0.2">SOLENOID</text>
<rect x="1009.4" y="243.1" width="35.0" height="54.0" fill="#dadaff" stroke="#5e5e76" stroke-width="1.3"/>
<path d="M1006.2,250.8 Q1001.8,255.4 1006.2,260.0" fill="none" stroke="#333" stroke-width="0.8"/>
<path d="M1013.2,252.0 L1009.8,255.4 L1013.2,258.8" fill="none" stroke="#333" stroke-width="0.8"/>
<text transform="translate(979.80,253.40) scale(0.895,1)" font-size="9.5" text-anchor="end" fill="#111111" stroke="#111111" stroke-width="0.2">DK GRN</text>
<text transform="translate(995.00,253.40) scale(0.895,1)" font-size="9.5" text-anchor="start" fill="#111111" stroke="#111111" stroke-width="0.2">B</text>
<path d="M1006.2,279.5 Q1001.8,284.1 1006.2,288.7" fill="none" stroke="#333" stroke-width="0.8"/>
<path d="M1013.2,280.7 L1009.8,284.1 L1013.2,287.5" fill="none" stroke="#333" stroke-width="0.8"/>
<text transform="translate(979.80,282.10) scale(0.895,1)" font-size="9.5" text-anchor="end" fill="#111111" stroke="#111111" stroke-width="0.2">DK BLU/WHT</text>
<text transform="translate(995.00,282.10) scale(0.895,1)" font-size="9.5" text-anchor="start" fill="#111111" stroke="#111111" stroke-width="0.2">A</text>
<polyline points="1009.8,255.4 1024.8,255.4 1024.8,257.4" fill="none" stroke="#2a2a4a" stroke-width="1.1"/>
<polyline points="1009.8,284.1 1024.8,284.1 1024.8,282.1" fill="none" stroke="#2a2a4a" stroke-width="1.1"/>
<path d="M1024.8,257.4 A3.09,3.09 0 0 1 1024.8,263.6 A3.09,3.09 0 0 1 1024.8,269.8 A3.09,3.09 0 0 1 1024.8,275.9 A3.09,3.09 0 0 1 1024.8,282.1" fill="#111" stroke="#111" stroke-width="1.0"/>
<line x1="1030.6" y1="258.7" x2="1030.6" y2="281.7" stroke="#2a2a4a" stroke-width="1.0"/>
<line x1="1034.0" y1="258.7" x2="1034.0" y2="281.7" stroke="#555577" stroke-width="1.0"/>
<text transform="translate(1043.40,308.60) scale(0.895,1)" font-size="9.5" text-anchor="end" fill="#111111" stroke="#111111" stroke-width="0.2">RIGHT REAR</text>
<text transform="translate(1042.40,318.80) scale(0.92,1)" font-size="9.5" text-anchor="end" fill="#111111" stroke="#111111" stroke-width="0.2">SHOCK ABSORBER</text>
<text transform="translate(1043.40,329.00) scale(0.895,1)" font-size="9.5" text-anchor="end" fill="#111111" stroke="#111111" stroke-width="0.2">SOLENOID</text>
<rect x="1009.4" y="343.5" width="35.0" height="54.0" fill="#dadaff" stroke="#5e5e76" stroke-width="1.3"/>
<path d="M1006.2,351.4 Q1001.8,356.0 1006.2,360.6" fill="none" stroke="#333" stroke-width="0.8"/>
<path d="M1013.2,352.6 L1009.8,356.0 L1013.2,359.4" fill="none" stroke="#333" stroke-width="0.8"/>
<text transform="translate(979.80,354.00) scale(0.895,1)" font-size="9.5" text-anchor="end" fill="#111111" stroke="#111111" stroke-width="0.2">LT BLU/WHT</text>
<text transform="translate(995.00,354.00) scale(0.895,1)" font-size="9.5" text-anchor="start" fill="#111111" stroke="#111111" stroke-width="0.2">A</text>
<path d="M1006.2,380.2 Q1001.8,384.8 1006.2,389.4" fill="none" stroke="#333" stroke-width="0.8"/>
<path d="M1013.2,381.4 L1009.8,384.8 L1013.2,388.2" fill="none" stroke="#333" stroke-width="0.8"/>
<text transform="translate(979.80,382.80) scale(0.895,1)" font-size="9.5" text-anchor="end" fill="#111111" stroke="#111111" stroke-width="0.2">GRY</text>
<text transform="translate(995.00,382.80) scale(0.895,1)" font-size="9.5" text-anchor="start" fill="#111111" stroke="#111111" stroke-width="0.2">B</text>
<polyline points="1009.8,356.0 1024.8,356.0 1024.8,358.0" fill="none" stroke="#2a2a4a" stroke-width="1.1"/>
<polyline points="1009.8,384.8 1024.8,384.8 1024.8,382.8" fill="none" stroke="#2a2a4a" stroke-width="1.1"/>
<path d="M1024.8,358.0 A3.10,3.10 0 0 1 1024.8,364.2 A3.10,3.10 0 0 1 1024.8,370.4 A3.10,3.10 0 0 1 1024.8,376.6 A3.10,3.10 0 0 1 1024.8,382.8" fill="#111" stroke="#111" stroke-width="1.0"/>
<line x1="1030.6" y1="359.3" x2="1030.6" y2="382.4" stroke="#2a2a4a" stroke-width="1.0"/>
<line x1="1034.0" y1="359.3" x2="1034.0" y2="382.4" stroke="#555577" stroke-width="1.0"/>
<text transform="translate(1043.40,409.00) scale(0.895,1)" font-size="9.5" text-anchor="end" fill="#111111" stroke="#111111" stroke-width="0.2">LEFT FRONT</text>
<text transform="translate(1042.40,419.20) scale(0.92,1)" font-size="9.5" text-anchor="end" fill="#111111" stroke="#111111" stroke-width="0.2">SHOCK ABSORBER</text>
<text transform="translate(1043.40,429.40) scale(0.895,1)" font-size="9.5" text-anchor="end" fill="#111111" stroke="#111111" stroke-width="0.2">SOLENOID</text>
<rect x="1009.4" y="444.5" width="35.0" height="54.0" fill="#dadaff" stroke="#5e5e76" stroke-width="1.3"/>
<path d="M1006.2,452.3 Q1001.8,456.9 1006.2,461.5" fill="none" stroke="#333" stroke-width="0.8"/>
<path d="M1013.2,453.5 L1009.8,456.9 L1013.2,460.3" fill="none" stroke="#333" stroke-width="0.8"/>
<text transform="translate(979.80,454.90) scale(0.895,1)" font-size="9.5" text-anchor="end" fill="#111111" stroke="#111111" stroke-width="0.2">DK GRN</text>
<text transform="translate(995.00,454.90) scale(0.895,1)" font-size="9.5" text-anchor="start" fill="#111111" stroke="#111111" stroke-width="0.2">B</text>
<path d="M1006.2,480.9 Q1001.8,485.5 1006.2,490.1" fill="none" stroke="#333" stroke-width="0.8"/>
<path d="M1013.2,482.1 L1009.8,485.5 L1013.2,488.9" fill="none" stroke="#333" stroke-width="0.8"/>
<text transform="translate(979.80,483.50) scale(0.895,1)" font-size="9.5" text-anchor="end" fill="#111111" stroke="#111111" stroke-width="0.2">DK BLU/WHT</text>
<text transform="translate(995.00,483.50) scale(0.895,1)" font-size="9.5" text-anchor="start" fill="#111111" stroke="#111111" stroke-width="0.2">A</text>
<polyline points="1009.8,456.9 1024.8,456.9 1024.8,458.9" fill="none" stroke="#2a2a4a" stroke-width="1.1"/>
<polyline points="1009.8,485.5 1024.8,485.5 1024.8,483.5" fill="none" stroke="#2a2a4a" stroke-width="1.1"/>
<path d="M1024.8,458.9 A3.08,3.08 0 0 1 1024.8,465.0 A3.08,3.08 0 0 1 1024.8,471.2 A3.08,3.08 0 0 1 1024.8,477.4 A3.08,3.08 0 0 1 1024.8,483.5" fill="#111" stroke="#111" stroke-width="1.0"/>
<line x1="1030.6" y1="460.2" x2="1030.6" y2="483.1" stroke="#2a2a4a" stroke-width="1.0"/>
<line x1="1034.0" y1="460.2" x2="1034.0" y2="483.1" stroke="#555577" stroke-width="1.0"/>
<text transform="translate(1043.40,510.00) scale(0.895,1)" font-size="9.5" text-anchor="end" fill="#111111" stroke="#111111" stroke-width="0.2">LEFT REAR</text>
<text transform="translate(1042.40,520.20) scale(0.92,1)" font-size="9.5" text-anchor="end" fill="#111111" stroke="#111111" stroke-width="0.2">SHOCK ABSORBER</text>
<text transform="translate(1043.40,530.40) scale(0.895,1)" font-size="9.5" text-anchor="end" fill="#111111" stroke="#111111" stroke-width="0.2">SOLENOID</text>
<rect x="502.4" y="735.2" width="54.2" height="61.4" fill="#dadaff" stroke="#5e5e76" stroke-width="1.3"/>
<path d="M509.7,732.9 C512.0,729.0 517.5,729.0 519.7,732.9" fill="none" stroke="#333" stroke-width="0.85"/>
<path d="M511.1,739.0 L514.7,735.6 L518.3,739.0" fill="none" stroke="#333" stroke-width="0.8"/>
<text transform="translate(511.30,728.70) rotate(-90) scale(0.895,1)" font-size="9.5" text-anchor="start" fill="#111111" stroke="#111111" stroke-width="0.2">A</text>
<path d="M524.1,732.9 C526.4,729.0 531.9,729.0 534.1,732.9" fill="none" stroke="#333" stroke-width="0.85"/>
<path d="M525.5,739.0 L529.1,735.6 L532.7,739.0" fill="none" stroke="#333" stroke-width="0.8"/>
<text transform="translate(525.70,728.70) rotate(-90) scale(0.895,1)" font-size="9.5" text-anchor="start" fill="#111111" stroke="#111111" stroke-width="0.2">B</text>
<path d="M538.9,732.9 C541.1,729.0 546.6,729.0 548.9,732.9" fill="none" stroke="#333" stroke-width="0.85"/>
<path d="M540.3,739.0 L543.9,735.6 L547.5,739.0" fill="none" stroke="#333" stroke-width="0.8"/>
<text transform="translate(540.50,728.70) rotate(-90) scale(0.895,1)" font-size="9.5" text-anchor="start" fill="#111111" stroke="#111111" stroke-width="0.2">C</text>
<polyline points="514.7,735.2 514.7,778.4" fill="none" stroke="#2a2a4a" stroke-width="1.0"/>
<polyline points="543.9,735.2 543.9,778.4" fill="none" stroke="#2a2a4a" stroke-width="1.0"/>
<path d="M514.7,778.4 L517.1,781.4 L519.6,776.4 L522.0,781.4 L524.4,776.4 L526.9,781.4 L529.3,776.4 L531.7,781.4 L534.2,776.4 L536.6,781.4 L539.0,776.4 L541.5,781.4 L543.9,778.4" fill="none" stroke="#2a2a4a" stroke-width="0.9"/>
<line x1="529.1" y1="735.2" x2="529.1" y2="770.5" stroke="#2a2a4a" stroke-width="1.0"/>
<path d="M526.5,770.2 L531.7,770.2 L529.1,774.4 Z" fill="#111"/>
<circle cx="529.1" cy="749.9" r="1.1" fill="#111"/>
<text transform="translate(511.30,707.70) rotate(-90) scale(0.895,1)" font-size="9.5" text-anchor="start" fill="#111111" stroke="#111111" stroke-width="0.2">RED/BLK</text>
<text transform="translate(525.70,702.50) rotate(-90) scale(0.895,1)" font-size="9.5" text-anchor="start" fill="#111111" stroke="#111111" stroke-width="0.2">LT GRN/WHT</text>
<text transform="translate(540.50,702.80) rotate(-90) scale(0.895,1)" font-size="9.5" text-anchor="start" fill="#111111" stroke="#111111" stroke-width="0.2">LT GRN/BLK</text>
<text transform="translate(529.30,808.40) scale(0.895,1)" font-size="9.5" text-anchor="middle" fill="#111111" stroke="#111111" stroke-width="0.2">RIGHT REAR</text>
<text transform="translate(529.30,818.80) scale(0.895,1)" font-size="9.5" text-anchor="middle" fill="#111111" stroke="#111111" stroke-width="0.2">SUSPENSION</text>
<text transform="translate(529.30,829.20) scale(0.895,1)" font-size="9.5" text-anchor="middle" fill="#111111" stroke="#111111" stroke-width="0.2">POSITION SENSOR</text>
<text transform="translate(529.30,839.60) scale(0.895,1)" font-size="9.5" text-anchor="middle" fill="#111111" stroke="#111111" stroke-width="0.2">(ON RIGHT REAR</text>
<text transform="translate(529.30,850.00) scale(0.895,1)" font-size="9.5" text-anchor="middle" fill="#111111" stroke="#111111" stroke-width="0.2">SUSPENSION</text>
<text transform="translate(529.30,860.40) scale(0.895,1)" font-size="9.5" text-anchor="middle" fill="#111111" stroke="#111111" stroke-width="0.2">SUPPORT)</text>
<rect x="602.9" y="735.2" width="54.2" height="61.4" fill="#dadaff" stroke="#5e5e76" stroke-width="1.3"/>
<path d="M610.4,732.9 C612.6,729.0 618.1,729.0 620.4,732.9" fill="none" stroke="#333" stroke-width="0.85"/>
<path d="M611.8,739.0 L615.4,735.6 L619.0,739.0" fill="none" stroke="#333" stroke-width="0.8"/>
<text transform="translate(612.00,728.70) rotate(-90) scale(0.895,1)" font-size="9.5" text-anchor="start" fill="#111111" stroke="#111111" stroke-width="0.2">A</text>
<path d="M624.3,732.9 C626.5,729.0 632.0,729.0 634.3,732.9" fill="none" stroke="#333" stroke-width="0.85"/>
<path d="M625.7,739.0 L629.3,735.6 L632.9,739.0" fill="none" stroke="#333" stroke-width="0.8"/>
<text transform="translate(625.90,728.70) rotate(-90) scale(0.895,1)" font-size="9.5" text-anchor="start" fill="#111111" stroke="#111111" stroke-width="0.2">B</text>
<path d="M639.1,732.9 C641.4,729.0 646.9,729.0 649.1,732.9" fill="none" stroke="#333" stroke-width="0.85"/>
<path d="M640.5,739.0 L644.1,735.6 L647.7,739.0" fill="none" stroke="#333" stroke-width="0.8"/>
<text transform="translate(640.70,728.70) rotate(-90) scale(0.895,1)" font-size="9.5" text-anchor="start" fill="#111111" stroke="#111111" stroke-width="0.2">C</text>
<polyline points="615.4,735.2 615.4,778.4" fill="none" stroke="#2a2a4a" stroke-width="1.0"/>
<polyline points="644.1,735.2 644.1,778.4" fill="none" stroke="#2a2a4a" stroke-width="1.0"/>
<path d="M615.4,778.4 L617.8,781.4 L620.2,776.4 L622.6,781.4 L625.0,776.4 L627.4,781.4 L629.7,776.4 L632.1,781.4 L634.5,776.4 L636.9,781.4 L639.3,776.4 L641.7,781.4 L644.1,778.4" fill="none" stroke="#2a2a4a" stroke-width="0.9"/>
<line x1="629.3" y1="735.2" x2="629.3" y2="770.5" stroke="#2a2a4a" stroke-width="1.0"/>
<path d="M626.7,770.2 L631.9,770.2 L629.3,774.4 Z" fill="#111"/>
<circle cx="629.3" cy="749.9" r="1.1" fill="#111"/>
<text transform="translate(612.00,707.70) rotate(-90) scale(0.895,1)" font-size="9.5" text-anchor="start" fill="#111111" stroke="#111111" stroke-width="0.2">PPL/WHT</text>
<text transform="translate(625.90,707.70) rotate(-90) scale(0.895,1)" font-size="9.5" text-anchor="start" fill="#111111" stroke="#111111" stroke-width="0.2">TAN/WHT</text>
<text transform="translate(640.70,702.50) rotate(-90) scale(0.895,1)" font-size="9.5" text-anchor="start" fill="#111111" stroke="#111111" stroke-width="0.2">LT BLU/WHT</text>
<text transform="translate(629.60,808.40) scale(0.895,1)" font-size="9.5" text-anchor="middle" fill="#111111" stroke="#111111" stroke-width="0.2">RIGHT FRONT</text>
<text transform="translate(629.60,818.80) scale(0.895,1)" font-size="9.5" text-anchor="middle" fill="#111111" stroke="#111111" stroke-width="0.2">SUSPENSION</text>
<text transform="translate(629.60,829.20) scale(0.895,1)" font-size="9.5" text-anchor="middle" fill="#111111" stroke="#111111" stroke-width="0.2">POSITION SENSOR</text>
<text transform="translate(629.60,839.60) scale(0.895,1)" font-size="9.5" text-anchor="middle" fill="#111111" stroke="#111111" stroke-width="0.2">(ON RIGHT FRONT</text>
<text transform="translate(629.60,850.00) scale(0.895,1)" font-size="9.5" text-anchor="middle" fill="#111111" stroke="#111111" stroke-width="0.2">SUSPENSION</text>
<text transform="translate(629.60,860.40) scale(0.895,1)" font-size="9.5" text-anchor="middle" fill="#111111" stroke="#111111" stroke-width="0.2">SUPPORT)</text>
<rect x="703.5" y="735.2" width="54.2" height="61.4" fill="#dadaff" stroke="#5e5e76" stroke-width="1.3"/>
<path d="M710.8,732.9 C713.0,729.0 718.5,729.0 720.8,732.9" fill="none" stroke="#333" stroke-width="0.85"/>
<path d="M712.2,739.0 L715.8,735.6 L719.4,739.0" fill="none" stroke="#333" stroke-width="0.8"/>
<text transform="translate(712.40,728.70) rotate(-90) scale(0.895,1)" font-size="9.5" text-anchor="start" fill="#111111" stroke="#111111" stroke-width="0.2">A</text>
<path d="M725.7,732.9 C728.0,729.0 733.5,729.0 735.7,732.9" fill="none" stroke="#333" stroke-width="0.85"/>
<path d="M727.1,739.0 L730.7,735.6 L734.3,739.0" fill="none" stroke="#333" stroke-width="0.8"/>
<text transform="translate(727.30,728.70) rotate(-90) scale(0.895,1)" font-size="9.5" text-anchor="start" fill="#111111" stroke="#111111" stroke-width="0.2">B</text>
<path d="M740.0,732.9 C742.2,729.0 747.8,729.0 750.0,732.9" fill="none" stroke="#333" stroke-width="0.85"/>
<path d="M741.4,739.0 L745.0,735.6 L748.6,739.0" fill="none" stroke="#333" stroke-width="0.8"/>
<text transform="translate(741.60,728.70) rotate(-90) scale(0.895,1)" font-size="9.5" text-anchor="start" fill="#111111" stroke="#111111" stroke-width="0.2">C</text>
<polyline points="715.8,735.2 715.8,778.4" fill="none" stroke="#2a2a4a" stroke-width="1.0"/>
<polyline points="745.0,735.2 745.0,778.4" fill="none" stroke="#2a2a4a" stroke-width="1.0"/>
<path d="M715.8,778.4 L718.2,781.4 L720.7,776.4 L723.1,781.4 L725.5,776.4 L728.0,781.4 L730.4,776.4 L732.8,781.4 L735.3,776.4 L737.7,781.4 L740.1,776.4 L742.6,781.4 L745.0,778.4" fill="none" stroke="#2a2a4a" stroke-width="0.9"/>
<line x1="730.7" y1="735.2" x2="730.7" y2="770.5" stroke="#2a2a4a" stroke-width="1.0"/>
<path d="M728.1,770.2 L733.3,770.2 L730.7,774.4 Z" fill="#111"/>
<circle cx="730.7" cy="749.9" r="1.1" fill="#111"/>
<text transform="translate(712.40,707.70) rotate(-90) scale(0.895,1)" font-size="9.5" text-anchor="start" fill="#111111" stroke="#111111" stroke-width="0.2">RED/BLK</text>
<text transform="translate(727.30,702.50) rotate(-90) scale(0.895,1)" font-size="9.5" text-anchor="start" fill="#111111" stroke="#111111" stroke-width="0.2">LT GRN/WHT</text>
<text transform="translate(741.60,702.80) rotate(-90) scale(0.895,1)" font-size="9.5" text-anchor="start" fill="#111111" stroke="#111111" stroke-width="0.2">LT GRN/BLK</text>
<text transform="translate(730.70,808.40) scale(0.895,1)" font-size="9.5" text-anchor="middle" fill="#111111" stroke="#111111" stroke-width="0.2">LEFT REAR</text>
<text transform="translate(730.70,818.80) scale(0.895,1)" font-size="9.5" text-anchor="middle" fill="#111111" stroke="#111111" stroke-width="0.2">SUSPENSION</text>
<text transform="translate(730.70,829.20) scale(0.895,1)" font-size="9.5" text-anchor="middle" fill="#111111" stroke="#111111" stroke-width="0.2">POSITION SENSOR</text>
<text transform="translate(730.70,839.60) scale(0.895,1)" font-size="9.5" text-anchor="middle" fill="#111111" stroke="#111111" stroke-width="0.2">(ON LEFT REAR</text>
<text transform="translate(730.70,850.00) scale(0.895,1)" font-size="9.5" text-anchor="middle" fill="#111111" stroke="#111111" stroke-width="0.2">SUSPENSION</text>
<text transform="translate(730.70,860.40) scale(0.895,1)" font-size="9.5" text-anchor="middle" fill="#111111" stroke="#111111" stroke-width="0.2">SUPPORT)</text>
<rect x="804.6" y="735.2" width="54.2" height="61.4" fill="#dadaff" stroke="#5e5e76" stroke-width="1.3"/>
<path d="M811.6,732.9 C813.9,729.0 819.4,729.0 821.6,732.9" fill="none" stroke="#333" stroke-width="0.85"/>
<path d="M813.0,739.0 L816.6,735.6 L820.2,739.0" fill="none" stroke="#333" stroke-width="0.8"/>
<text transform="translate(813.20,728.70) rotate(-90) scale(0.895,1)" font-size="9.5" text-anchor="start" fill="#111111" stroke="#111111" stroke-width="0.2">A</text>
<path d="M825.9,732.9 C828.1,729.0 833.6,729.0 835.9,732.9" fill="none" stroke="#333" stroke-width="0.85"/>
<path d="M827.3,739.0 L830.9,735.6 L834.5,739.0" fill="none" stroke="#333" stroke-width="0.8"/>
<text transform="translate(827.50,728.70) rotate(-90) scale(0.895,1)" font-size="9.5" text-anchor="start" fill="#111111" stroke="#111111" stroke-width="0.2">B</text>
<path d="M841.0,732.9 C843.2,729.0 848.8,729.0 851.0,732.9" fill="none" stroke="#333" stroke-width="0.85"/>
<path d="M842.4,739.0 L846.0,735.6 L849.6,739.0" fill="none" stroke="#333" stroke-width="0.8"/>
<text transform="translate(842.60,728.70) rotate(-90) scale(0.895,1)" font-size="9.5" text-anchor="start" fill="#111111" stroke="#111111" stroke-width="0.2">C</text>
<polyline points="816.6,735.2 816.6,778.4" fill="none" stroke="#2a2a4a" stroke-width="1.0"/>
<polyline points="846.0,735.2 846.0,778.4" fill="none" stroke="#2a2a4a" stroke-width="1.0"/>
<path d="M816.6,778.4 L819.1,781.4 L821.5,776.4 L824.0,781.4 L826.4,776.4 L828.9,781.4 L831.3,776.4 L833.8,781.4 L836.2,776.4 L838.7,781.4 L841.1,776.4 L843.6,781.4 L846.0,778.4" fill="none" stroke="#2a2a4a" stroke-width="0.9"/>
<line x1="830.9" y1="735.2" x2="830.9" y2="770.5" stroke="#2a2a4a" stroke-width="1.0"/>
<path d="M828.3,770.2 L833.5,770.2 L830.9,774.4 Z" fill="#111"/>
<circle cx="830.9" cy="749.9" r="1.1" fill="#111"/>
<text transform="translate(813.20,707.70) rotate(-90) scale(0.895,1)" font-size="9.5" text-anchor="start" fill="#111111" stroke="#111111" stroke-width="0.2">PPL/WHT</text>
<text transform="translate(827.50,707.70) rotate(-90) scale(0.895,1)" font-size="9.5" text-anchor="start" fill="#111111" stroke="#111111" stroke-width="0.2">TAN/WHT</text>
<text transform="translate(842.60,702.50) rotate(-90) scale(0.895,1)" font-size="9.5" text-anchor="start" fill="#111111" stroke="#111111" stroke-width="0.2">LT BLU/BLK</text>
<text transform="translate(830.90,808.40) scale(0.895,1)" font-size="9.5" text-anchor="middle" fill="#111111" stroke="#111111" stroke-width="0.2">LEFT FRONT</text>
<text transform="translate(830.90,818.80) scale(0.895,1)" font-size="9.5" text-anchor="middle" fill="#111111" stroke="#111111" stroke-width="0.2">SUSPENSION</text>
<text transform="translate(830.90,829.20) scale(0.895,1)" font-size="9.5" text-anchor="middle" fill="#111111" stroke="#111111" stroke-width="0.2">POSITION SENSOR</text>
<text transform="translate(830.90,839.60) scale(0.895,1)" font-size="9.5" text-anchor="middle" fill="#111111" stroke="#111111" stroke-width="0.2">(ON LEFT FRONT</text>
<text transform="translate(830.90,850.00) scale(0.895,1)" font-size="9.5" text-anchor="middle" fill="#111111" stroke="#111111" stroke-width="0.2">SUSPENSION</text>
<text transform="translate(830.90,860.40) scale(0.895,1)" font-size="9.5" text-anchor="middle" fill="#111111" stroke="#111111" stroke-width="0.2">SUPPORT)</text>
<rect x="385.5" y="778.4" width="72.1" height="35.1" fill="#dadaff" stroke="#5e5e76" stroke-width="1.3"/>
<path d="M395.0,747.2 C397.2,743.3 402.8,743.3 405.0,747.2" fill="none" stroke="#333" stroke-width="0.85"/>
<line x1="400.0" y1="748.0" x2="400.0" y2="778.4" stroke="#111" stroke-width="2.0"/>
<path d="M395.2,752.0 L400.0,749.2 L404.8,752.0" fill="none" stroke="#333" stroke-width="0.8"/>
<text transform="translate(397.20,741.20) rotate(-90) scale(0.895,1)" font-size="9.5" text-anchor="start" fill="#111111" stroke="#111111" stroke-width="0.2">B8</text>
<text transform="translate(397.20,721.50) rotate(-90) scale(0.895,1)" font-size="9.5" text-anchor="start" fill="#111111" stroke="#111111" stroke-width="0.2">ORG/BLK</text>
<text transform="translate(397.20,774.00) rotate(-90) scale(0.895,1)" font-size="9.5" text-anchor="start" fill="#111111" stroke="#111111" stroke-width="0.2">NCA</text>
<path d="M409.2,747.2 C411.4,743.3 416.9,743.3 419.2,747.2" fill="none" stroke="#333" stroke-width="0.85"/>
<line x1="414.2" y1="748.0" x2="414.2" y2="778.4" stroke="#111" stroke-width="2.0"/>
<path d="M409.4,752.0 L414.2,749.2 L419.0,752.0" fill="none" stroke="#333" stroke-width="0.8"/>
<text transform="translate(411.40,741.20) rotate(-90) scale(0.895,1)" font-size="9.5" text-anchor="start" fill="#111111" stroke="#111111" stroke-width="0.2">C1</text>
<text transform="translate(411.40,721.50) rotate(-90) scale(0.895,1)" font-size="9.5" text-anchor="start" fill="#111111" stroke="#111111" stroke-width="0.2">ORG/BLK</text>
<text transform="translate(411.40,774.00) rotate(-90) scale(0.895,1)" font-size="9.5" text-anchor="start" fill="#111111" stroke="#111111" stroke-width="0.2">NCA</text>
<path d="M423.8,747.2 C426.1,743.3 431.6,743.3 433.8,747.2" fill="none" stroke="#333" stroke-width="0.85"/>
<line x1="428.8" y1="748.0" x2="428.8" y2="778.4" stroke="#111" stroke-width="2.0"/>
<path d="M424.0,752.0 L428.8,749.2 L433.6,752.0" fill="none" stroke="#333" stroke-width="0.8"/>
<text transform="translate(426.00,741.20) rotate(-90) scale(0.895,1)" font-size="9.5" text-anchor="start" fill="#111111" stroke="#111111" stroke-width="0.2">D4</text>
<text transform="translate(426.00,721.50) rotate(-90) scale(0.895,1)" font-size="9.5" text-anchor="start" fill="#111111" stroke="#111111" stroke-width="0.2">GRY</text>
<text transform="translate(426.00,774.00) rotate(-90) scale(0.895,1)" font-size="9.5" text-anchor="start" fill="#111111" stroke="#111111" stroke-width="0.2">NCA</text>
<path d="M437.9,747.2 C440.1,743.3 445.6,743.3 447.9,747.2" fill="none" stroke="#333" stroke-width="0.85"/>
<line x1="442.9" y1="748.0" x2="442.9" y2="778.4" stroke="#111" stroke-width="2.0"/>
<path d="M438.1,752.0 L442.9,749.2 L447.7,752.0" fill="none" stroke="#333" stroke-width="0.8"/>
<text transform="translate(440.10,741.20) rotate(-90) scale(0.895,1)" font-size="9.5" text-anchor="start" fill="#111111" stroke="#111111" stroke-width="0.2">D1</text>
<text transform="translate(440.10,721.50) rotate(-90) scale(0.895,1)" font-size="9.5" text-anchor="start" fill="#111111" stroke="#111111" stroke-width="0.2">LT BLU</text>
<text transform="translate(440.10,774.00) rotate(-90) scale(0.895,1)" font-size="9.5" text-anchor="start" fill="#111111" stroke="#111111" stroke-width="0.2">NCA</text>
<text transform="translate(421.00,823.70) scale(0.895,1)" font-size="9.5" text-anchor="middle" fill="#111111" stroke="#111111" stroke-width="0.2">STEERING</text>
<text transform="translate(421.00,834.25) scale(0.895,1)" font-size="9.5" text-anchor="middle" fill="#111111" stroke="#111111" stroke-width="0.2">WHEEL SPEED/</text>
<text transform="translate(421.00,844.80) scale(0.895,1)" font-size="9.5" text-anchor="middle" fill="#111111" stroke="#111111" stroke-width="0.2">POSITION</text>
<text transform="translate(421.00,855.35) scale(0.895,1)" font-size="9.5" text-anchor="middle" fill="#111111" stroke="#111111" stroke-width="0.2">SENSOR</text>
<rect x="285.7" y="778.6" width="58.8" height="42.8" fill="#dadaff" stroke="#6c6c7c" stroke-width="1.6" stroke-dasharray="7,3.2"/>
<path d="M293.9,776.6 C296.1,772.7 301.6,772.7 303.9,776.6" fill="none" stroke="#333" stroke-width="0.85"/>
<path d="M323.3,776.6 C325.6,772.7 331.1,772.7 333.3,776.6" fill="none" stroke="#333" stroke-width="0.85"/>
<text transform="translate(295.60,770.70) rotate(-90) scale(0.895,1)" font-size="9.5" text-anchor="start" fill="#111111" stroke="#111111" stroke-width="0.2">50</text>
<text transform="translate(311.40,770.70) rotate(-90) scale(0.895,1)" font-size="9.5" text-anchor="start" fill="#111111" stroke="#111111" stroke-width="0.2" text-decoration="underline">C2</text>
<text transform="translate(324.60,770.70) rotate(-90) scale(0.895,1)" font-size="9.5" text-anchor="start" fill="#111111" stroke="#111111" stroke-width="0.2">38</text>
<text transform="translate(339.90,770.70) rotate(-90) scale(0.895,1)" font-size="9.5" text-anchor="start" fill="#111111" stroke="#111111" stroke-width="0.2" text-decoration="underline">C1</text>
<text transform="translate(324.10,751.90) rotate(-90) scale(0.895,1)" font-size="9.5" text-anchor="start" fill="#111111" stroke="#111111" stroke-width="0.2">PNK/WHT</text>
<text transform="translate(315.00,833.80) scale(0.895,1)" font-size="9.5" text-anchor="middle" fill="#111111" stroke="#111111" stroke-width="0.2">POWERTRAIN CONTROL</text>
<text transform="translate(315.00,844.40) scale(0.895,1)" font-size="9.5" text-anchor="middle" fill="#111111" stroke="#111111" stroke-width="0.2">MODULE (PCM)</text>
<text transform="translate(315.00,855.00) scale(0.895,1)" font-size="9.5" text-anchor="middle" fill="#111111" stroke="#111111" stroke-width="0.2">(ON LEFT FRONT</text>
<text transform="translate(315.00,865.60) scale(0.895,1)" font-size="9.5" text-anchor="middle" fill="#111111" stroke="#111111" stroke-width="0.2">OF ENGINE COMPT)</text>
<rect x="204.3" y="820.3" width="46.1" height="22.8" fill="#dadaff" stroke="#6c6c7c" stroke-width="1.6" stroke-dasharray="7,3.2"/>
<path d="M207.8,819.2 C210.1,815.3 215.6,815.3 217.8,819.2" fill="none" stroke="#333" stroke-width="0.85"/>
<path d="M237.1,819.2 C239.3,815.3 244.8,815.3 247.1,819.2" fill="none" stroke="#333" stroke-width="0.85"/>
<polyline points="212.8,820.6 212.8,834.4 242.1,834.4 242.1,820.6" fill="none" stroke="#2a2a4a" stroke-width="1.4"/>
<path d="M209.2,824.4 L212.8,820.8 L216.4,824.4" fill="none" stroke="#333" stroke-width="0.8"/>
<path d="M238.5,824.4 L242.1,820.8 L245.7,824.4" fill="none" stroke="#333" stroke-width="0.8"/>
<text transform="translate(209.00,814.70) rotate(-90) scale(0.895,1)" font-size="9.5" text-anchor="start" fill="#111111" stroke="#111111" stroke-width="0.2">D5</text>
<text transform="translate(209.00,798.50) rotate(-90) scale(0.895,1)" font-size="9.5" text-anchor="start" fill="#111111" stroke="#111111" stroke-width="0.2">DK GRN/WHT</text>
<text transform="translate(238.30,814.70) rotate(-90) scale(0.895,1)" font-size="9.5" text-anchor="start" fill="#111111" stroke="#111111" stroke-width="0.2">E5</text>
<text transform="translate(238.30,798.50) rotate(-90) scale(0.895,1)" font-size="9.5" text-anchor="start" fill="#111111" stroke="#111111" stroke-width="0.2">DK GRN/WHT</text>
<text transform="translate(255.10,814.70) rotate(-90) scale(0.895,1)" font-size="9.5" text-anchor="start" fill="#111111" stroke="#111111" stroke-width="0.2" text-decoration="underline">C2</text>
<text transform="translate(197.60,827.90) scale(0.895,1)" font-size="9.5" text-anchor="end" fill="#111111" stroke="#111111" stroke-width="0.2">I/P WIRING HARNESS</text>
<text transform="translate(200.10,838.05) scale(0.895,1)" font-size="9.5" text-anchor="end" fill="#111111" stroke="#111111" stroke-width="0.2">JUNCTION BLOCK</text>
<text transform="translate(197.60,848.20) scale(0.895,1)" font-size="9.5" text-anchor="end" fill="#111111" stroke="#111111" stroke-width="0.2">(ON LOWER RIGHT</text>
<text transform="translate(200.10,858.35) scale(0.895,1)" font-size="9.5" text-anchor="end" fill="#111111" stroke="#111111" stroke-width="0.2">SIDE OF DASH)</text>
<path d="M883.9,747.4 C886.1,743.5 891.5,743.5 893.7,747.4" fill="none" stroke="#333" stroke-width="0.85"/>
<path d="M898.1,747.4 C900.3,743.5 905.7,743.5 907.9,747.4" fill="none" stroke="#333" stroke-width="0.85"/>
<rect x="874.5" y="749.9" width="42.8" height="32.1" fill="#dadaff" stroke="#6c6c7c" stroke-width="1.6" stroke-dasharray="7,3.2"/>
<polyline points="888.8,750.1 888.8,781.8" fill="none" stroke="#2a2a4a" stroke-width="1.1"/>
<polyline points="903.0,750.1 903.0,765.6 888.8,765.6" fill="none" stroke="#2a2a4a" stroke-width="1.1"/>
<path d="M885.4,753.9 L888.8,750.3 L892.2,753.9" fill="none" stroke="#333" stroke-width="0.8"/>
<path d="M899.6,753.9 L903.0,750.3 L906.4,753.9" fill="none" stroke="#333" stroke-width="0.8"/>
<circle cx="888.8" cy="765.6" r="1.2" fill="#111"/>
<circle cx="888.8" cy="782.0" r="1.8" fill="#111"/>
<line x1="883.0" y1="784.8" x2="894.8" y2="784.8" stroke="#555" stroke-width="1.0"/>
<line x1="885.5" y1="787.3" x2="892.0" y2="787.3" stroke="#777" stroke-width="1.0"/>
<line x1="887.3" y1="789.4" x2="890.4" y2="789.4" stroke="#888" stroke-width="1.0"/>
<text transform="translate(889.00,799.30) scale(0.895,1)" font-size="9.5" text-anchor="middle" fill="#111111" stroke="#111111" stroke-width="0.2">G998</text>
<text transform="translate(885.40,742.20) rotate(-90) scale(0.895,1)" font-size="9.5" text-anchor="start" fill="#111111" stroke="#111111" stroke-width="0.2">E</text>
<text transform="translate(885.40,727.90) rotate(-90) scale(0.895,1)" font-size="9.5" text-anchor="start" fill="#111111" stroke="#111111" stroke-width="0.2">BLK</text>
<text transform="translate(899.70,742.20) rotate(-90) scale(0.895,1)" font-size="9.5" text-anchor="start" fill="#111111" stroke="#111111" stroke-width="0.2">D</text>
<text transform="translate(899.70,727.90) rotate(-90) scale(0.895,1)" font-size="9.5" text-anchor="start" fill="#111111" stroke="#111111" stroke-width="0.2">BLK</text>
<text transform="translate(923.00,755.80) scale(0.895,1)" font-size="9.5" text-anchor="start" fill="#111111" stroke="#111111" stroke-width="0.2">SPLICE PACK SP410</text>
<text transform="translate(923.00,766.25) scale(0.895,1)" font-size="9.5" text-anchor="start" fill="#111111" stroke="#111111" stroke-width="0.2">(REAR CORNER OF</text>
<text transform="translate(923.00,776.70) scale(0.895,1)" font-size="9.5" text-anchor="start" fill="#111111" stroke="#111111" stroke-width="0.2">RIGHT REAR WINDOW)</text>
<rect x="0" y="0" width="1066" height="15.6" fill="#d3d3d3"/>
</svg></body></html>
